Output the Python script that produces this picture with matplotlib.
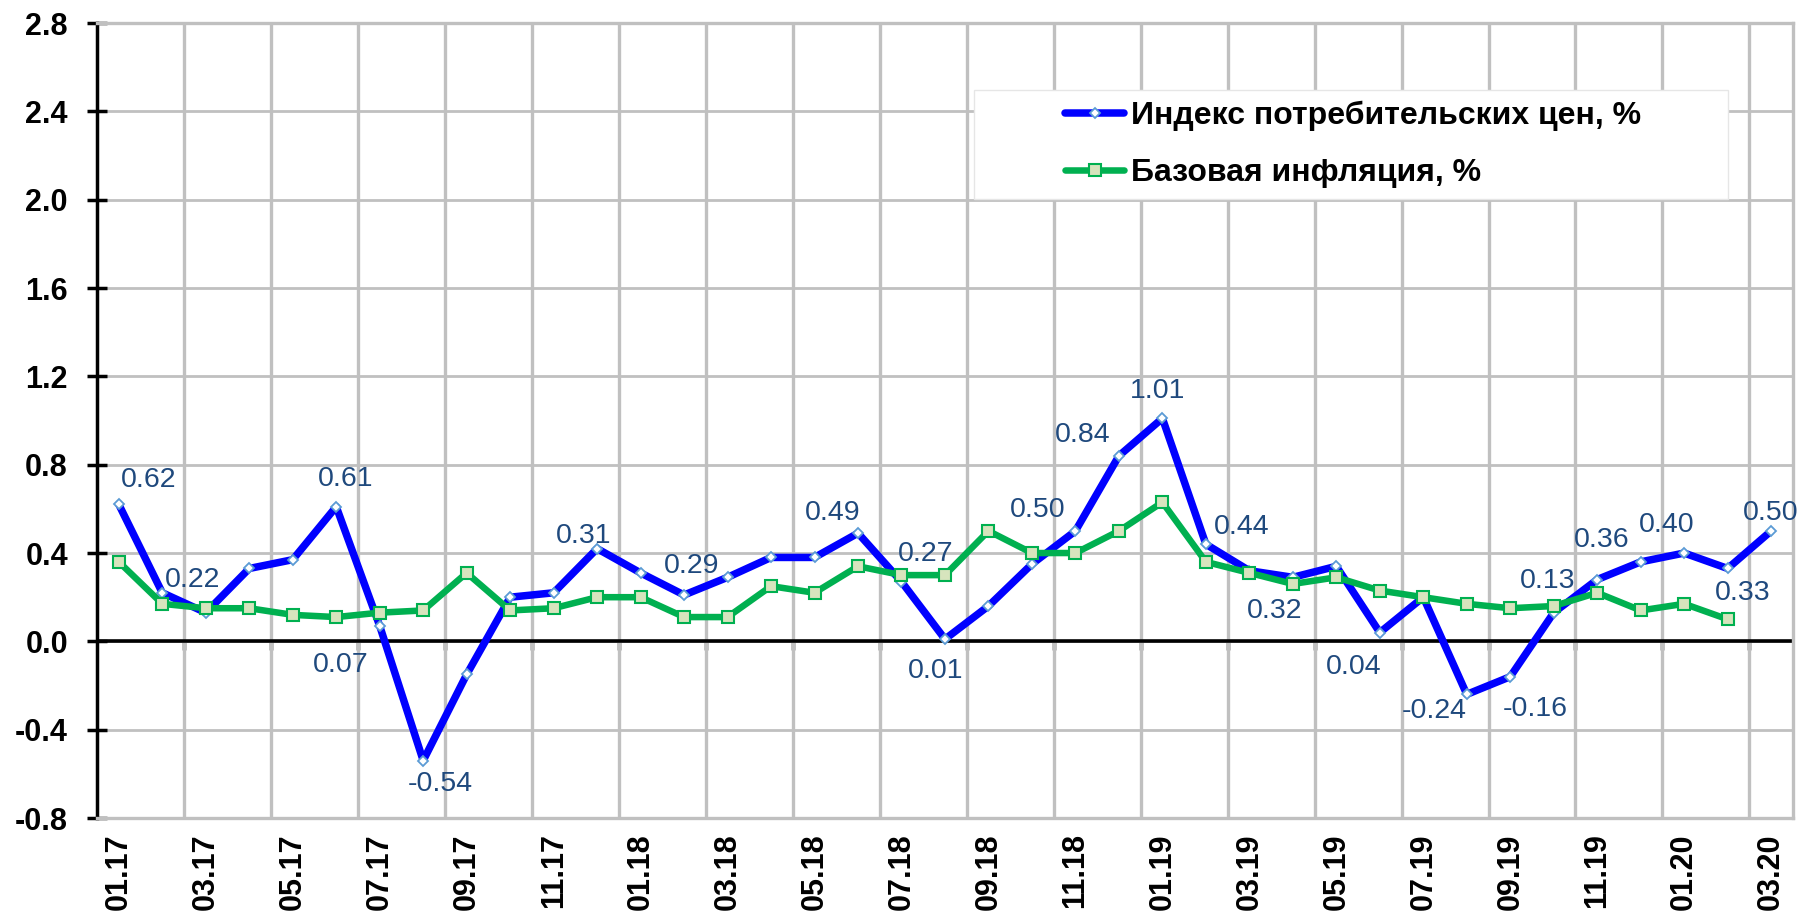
import numpy as np
import matplotlib
matplotlib.use('Agg')
import matplotlib.pyplot as plt
from matplotlib.patches import Rectangle

plt.rcParams['font.family'] = ['Liberation Sans', 'DejaVu Sans']

# monthly values, 01.17 .. 03.20
cpi = [0.62, 0.22, 0.13, 0.33, 0.37, 0.61, 0.07, -0.54, -0.15, 0.20, 0.22, 0.42,
       0.31, 0.21, 0.29, 0.38, 0.38, 0.49, 0.27, 0.01, 0.16, 0.35, 0.50, 0.84,
       1.01, 0.44, 0.32, 0.29, 0.34, 0.04, 0.20, -0.24, -0.16, 0.13, 0.28, 0.36,
       0.40, 0.33, 0.50]
core = [0.36, 0.17, 0.15, 0.15, 0.12, 0.11, 0.13, 0.14, 0.31, 0.14, 0.15, 0.20,
        0.20, 0.11, 0.11, 0.25, 0.22, 0.34, 0.30, 0.30, 0.50, 0.40, 0.40, 0.50,
        0.63, 0.36, 0.31, 0.26, 0.29, 0.23, 0.20, 0.17, 0.15, 0.16, 0.22, 0.14,
        0.17, 0.10, np.nan]
tick_labels = ['01.17', '03.17', '05.17', '07.17', '09.17', '11.17',
               '01.18', '03.18', '05.18', '07.18', '09.18', '11.18',
               '01.19', '03.19', '05.19', '07.19', '09.19', '11.19',
               '01.20', '03.20']
series_names = ['Индекс потребительских цен, %', 'Базовая инфляция, %']

# which CPI points carry a value label
labeled = [0, 1, 5, 6, 7, 12, 14, 17, 18, 19, 22, 23, 24, 25, 26, 29, 31, 32,
           33, 35, 36, 37, 38]
# label offsets in pixels (dx, dy), dy positive = up
label_offsets = {
    0: (30, 24), 1: (30, 13), 5: (9, 28), 6: (-39, -39), 7: (17, -23),
    12: (-57, 37), 14: (-36, 11), 17: (-25, 20), 18: (24, 28), 19: (-9, -32),
    22: (-38, 21), 23: (-36, 21), 24: (-5, 27), 25: (36, 17), 26: (25, -40),
    29: (-26, -34), 31: (-33, -17), 32: (25, -32), 33: (-6, 32), 35: (-39, 22),
    36: (-17, 28), 37: (15, -25), 38: (0, 18),
}

x = np.arange(len(cpi))
ymin, ymax = -0.8, 2.8

fig = plt.figure(figsize=(18.11, 9.21), dpi=100)
ax = fig.add_axes([0.0536, 0.1118, 0.9364, 0.8632])

grid_c = '#C0C0C0'
ax.set_xlim(-0.5, len(cpi) - 0.5)
ax.set_ylim(ymin, ymax)

# grid
ax.set_yticks(np.arange(ymin, ymax + 0.01, 0.4))
ax.set_yticklabels(['%.1f' % v for v in np.arange(ymin, ymax + 0.01, 0.4)])
ax.set_xticks(x[::2])
ax.set_xticklabels(tick_labels, rotation=90, fontweight='bold', fontsize=22)
ax.set_xticks(np.arange(1.5, len(cpi) - 0.5, 2), minor=True)
ax.grid(which='minor', axis='x', color=grid_c, lw=2.4, zorder=0)
ax.grid(which='major', axis='y', color=grid_c, lw=2.0, zorder=0)
ax.set_axisbelow(True)

for s in ['top', 'right', 'bottom']:
    ax.spines[s].set_color(grid_c)
    ax.spines[s].set_linewidth(2.4)
ax.spines['left'].set_color('black')
ax.spines['left'].set_linewidth(2.5)

ax.tick_params(axis='x', which='both', length=0, pad=11)
ax.tick_params(axis='y', direction='inout', length=14, width=2.5, pad=14,
               labelsize=22)
for t in ax.get_yticklabels():
    t.set_fontweight('bold')

# zero axis with tick marks
ax.axhline(0, color='black', lw=2.6, zorder=1)
sec = ax.secondary_xaxis((0 - ymin) / (ymax - ymin))
sec.set_xticks(np.arange(1.5, len(cpi) - 0.5, 2))
sec.set_xticklabels([])
sec.tick_params(direction='out', length=6.5, width=2.5, color='black')
sec.spines['bottom'].set_visible(False)

# series
ax.plot(x, cpi, color='#0000FF', lw=5.4, marker='D', markersize=5,
        markerfacecolor='white', markeredgecolor='#5B9BD5', markeredgewidth=1.3,
        solid_capstyle='round', solid_joinstyle='round',
        label=series_names[0], zorder=3)
ax.plot(x, core, color='#00B050', lw=4.7, marker='s', markersize=8.5,
        markerfacecolor='#D7E4BD', markeredgecolor='#00B050', markeredgewidth=1.5,
        solid_capstyle='round', solid_joinstyle='round',
        label=series_names[1], zorder=4)

for i in labeled:
    dx, dy = label_offsets[i]
    ax.annotate('%.2f' % cpi[i], (x[i], cpi[i]), xytext=(dx, dy),
                textcoords='offset pixels', ha='center', va='center',
                fontsize=20.5, color='#1F497D', zorder=6)

# legend box
ax.add_patch(Rectangle((0.517, 0.779), 0.445, 0.137, transform=ax.transAxes,
                       facecolor='white', edgecolor='#E6E6E6', lw=1.0, zorder=5))
leg = ax.legend(loc='center left', bbox_to_anchor=(0.571, 0.8475),
                frameon=False, handlelength=1.85,
                handletextpad=0.2, labelspacing=0.85, borderpad=0,
                borderaxespad=0, numpoints=1, prop={'weight': 'bold', 'size': 23})
leg.set_zorder(7)

fig.savefig('out.png', dpi=100)
